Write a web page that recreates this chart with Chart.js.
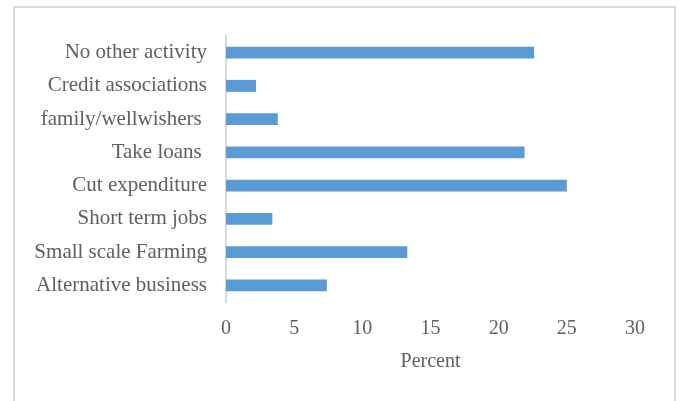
<!DOCTYPE html>
<html>
<head>
<meta charset="utf-8">
<script src="https://cdn.jsdelivr.net/npm/chart.js@4"></script>
<style>
  html, body { margin: 0; padding: 0; background: #fff; }
  #wrap { position: relative; width: 679px; height: 401px; }
  #frame {
    position: absolute; left: 13px; top: 6px; width: 659px; height: 420px;
    border: 2px solid #d9d9d9; border-bottom: none; pointer-events: none;
  }
</style>
</head>
<body>
<div id="wrap">
  <canvas id="barchart" width="679" height="401"></canvas>
  <div id="frame"></div>
</div>
<script>
const categories = ['No other activity', 'Credit associations', 'family/wellwishers ', 'Take loans ',
                    'Cut expenditure', 'Short term jobs', 'Small scale Farming', 'Alternative business'];
const percents = [22.6, 2.2, 3.8, 21.9, 25.0, 3.4, 13.3, 7.4];
const xTicks = [0, 5, 10, 15, 20, 25, 30];

const ctx = document.getElementById('barchart');
const textColor = '#606060';
const serif = "'Liberation Serif', 'Times New Roman', serif";

new Chart(ctx, {
    type: 'bar',
    data: {
        labels: categories,
        datasets: [
            {
                label: 'Percent',
                data: percents,
                backgroundColor: '#5b9bd5',
                borderWidth: 0,
                barPercentage: 0.36,
                categoryPercentage: 1
            }
        ]
    },
    options: {
        indexAxis: 'y',
        responsive: false,
        animation: false,
        layout: { padding: { top: 36, right: 44, bottom: 0, left: 0 } },
        plugins: {
            legend: { display: false },
            tooltip: { enabled: false }
        },
        scales: {
            x: {
                min: xTicks[0],
                max: xTicks[xTicks.length - 1],
                afterBuildTicks: (scale) => { scale.ticks = xTicks.map(v => ({ value: v })); },
                afterFit: (scale) => { scale.height = 99; },
                grid: { display: false, drawTicks: false },
                border: { display: false },
                ticks: { color: textColor, padding: 17, font: { family: serif, size: 20, lineHeight: 1 } },
                title: {
                    display: true,
                    text: 'Percent',
                    color: textColor,
                    padding: { top: 0, bottom: 27 },
                    font: { family: serif, size: 20 }
                }
            },
            y: {
                afterFit: (scale) => { scale.width = 226; },
                grid: { display: false, drawTicks: false },
                border: { display: true, color: '#d9d9d9', width: 2 },
                ticks: { color: textColor, padding: 19, font: { family: serif, size: 21 } }
            }
        }
    }
});
</script>
</body>
</html>
